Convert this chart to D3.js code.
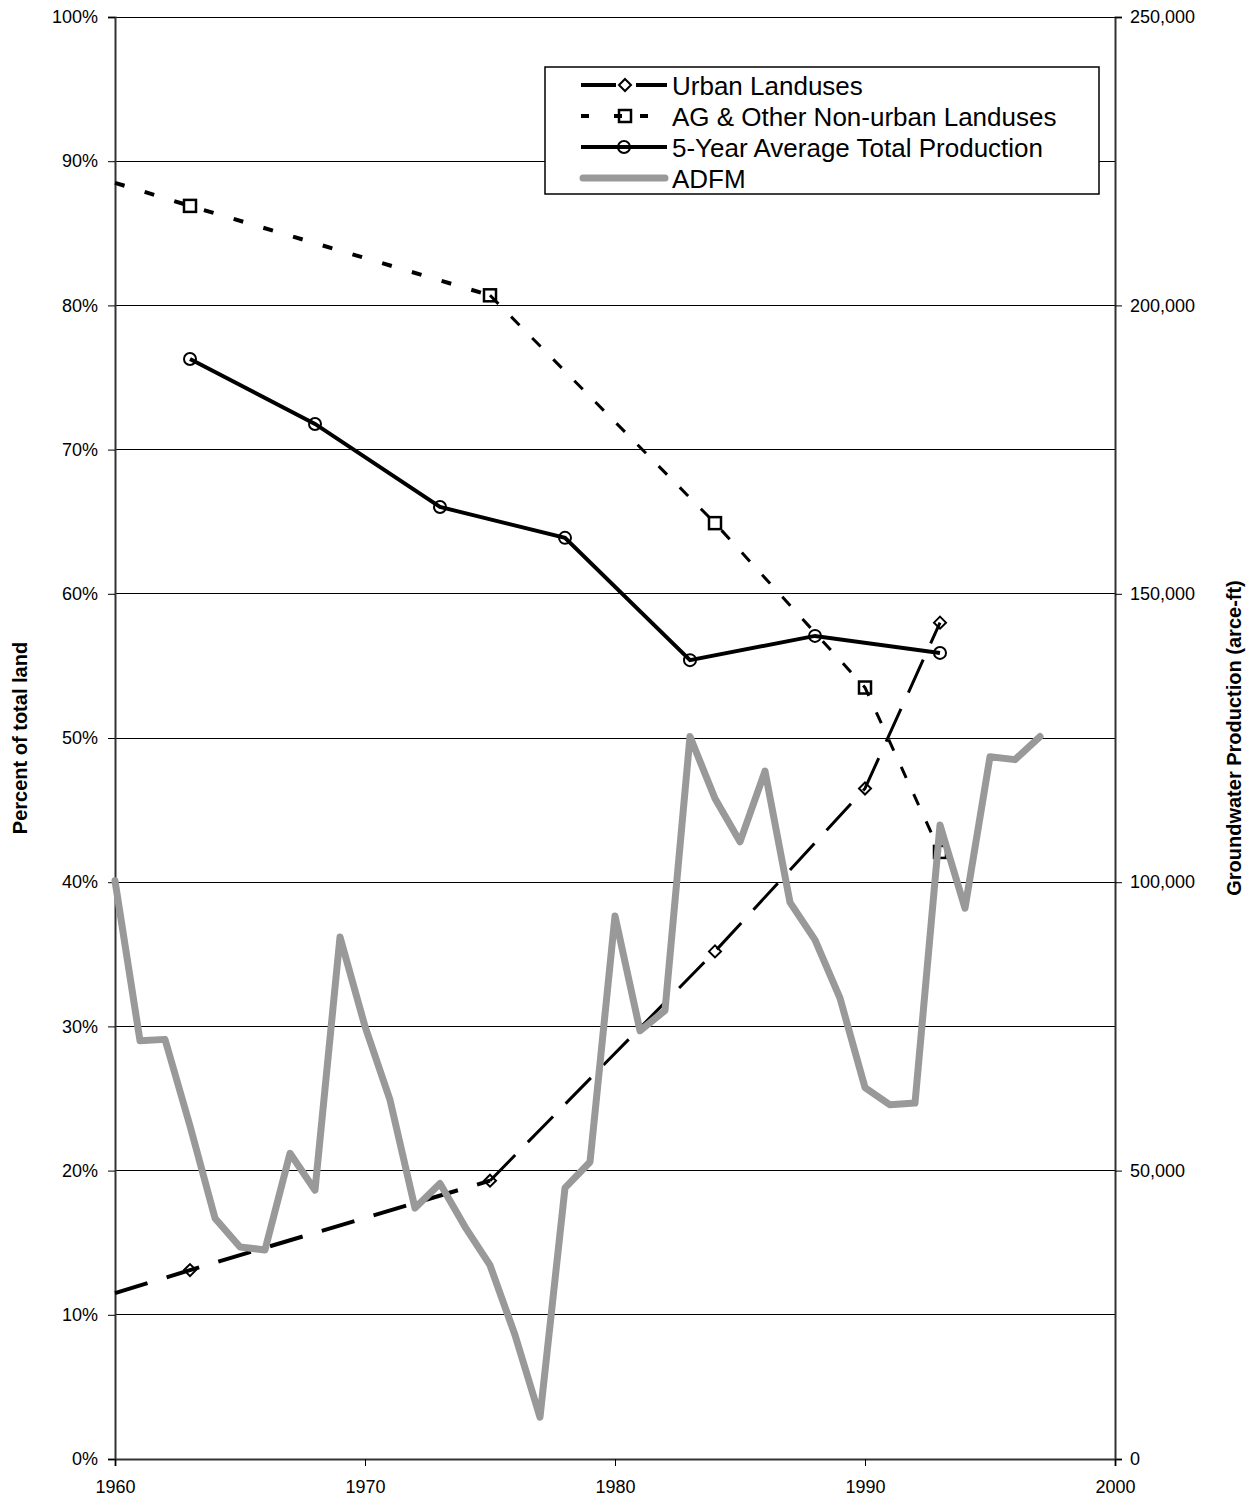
<!DOCTYPE html>
<html><head><meta charset="utf-8">
<script src="https://cdn.jsdelivr.net/npm/d3@7/dist/d3.min.js"></script>
<style>body{margin:0;background:#fff;} text{font-family:"Liberation Sans",Arial,sans-serif;}</style>
</head><body>
<svg id="c" width="1252" height="1503"></svg>
<script>
// ---- data ----
const landYears = [1960, 1963, 1975, 1984, 1990, 1993];
const urbanPct = [11.5, 13.1, 19.3, 35.2, 46.5, 58.0];
const agPct = [88.5, 86.9, 80.7, 64.9, 53.5, 42.1];
const avgYears = [1963, 1968, 1973, 1978, 1983, 1988, 1993];
const avgProd = [190700, 179450, 165050, 159700, 138500, 142700, 139750];
const adfmYears = d3.range(1960, 1998);
const adfmProd = [100250, 72500, 72750, 57750, 41750, 36750, 36250, 53000, 46600, 90500,
  75000, 62250, 43500, 47750, 40250, 33600, 21500, 7250, 47000, 51500,
  94150, 74250, 77750, 125250, 114500, 107000, 119250, 96500, 90000, 79900,
  64400, 61400, 61700, 109900, 95500, 121750, 121250, 125250];
const xTicks = [1960, 1970, 1980, 1990, 2000];
const leftTicks = [0, 10, 20, 30, 40, 50, 60, 70, 80, 90, 100];
const rightTicks = [0, 50000, 100000, 150000, 200000, 250000];
const legendLabels = ["Urban Landuses", "AG & Other Non-urban Landuses", "5-Year Average Total Production", "ADFM"];

const svg = d3.select("#c");
const L = 115, R = 1115, T = 17, B = 1459;
const x = d3.scaleLinear().domain([1960, 2000]).range([L, R]);
const yL = d3.scaleLinear().domain([0, 100]).range([B, T]);
const yR = d3.scaleLinear().domain([0, 250000]).range([B, T]);

// gridlines
svg.append("g").selectAll("line").data(leftTicks.slice(1)).join("line")
  .attr("x1", L).attr("x2", R).attr("y1", d => yL(d)).attr("y2", d => yL(d))
  .attr("stroke", "#000").attr("stroke-width", 1).attr("shape-rendering", "crispEdges");

// axes
const axL = d3.axisLeft(yL).tickValues(leftTicks).tickFormat(d => d + "%").tickSizeOuter(0).tickSize(7).tickPadding(10);
const gL = svg.append("g").attr("transform", `translate(${L},0)`).call(axL);
const axR = d3.axisRight(yR).tickValues(rightTicks).tickFormat(d3.format(",")).tickSizeOuter(0).tickSize(7).tickPadding(8);
const gR = svg.append("g").attr("transform", `translate(${R},0)`).call(axR);
const axB = d3.axisBottom(x).tickValues(xTicks).tickFormat(d3.format("d")).tickSizeOuter(0).tickSize(7).tickPadding(14);
const gB = svg.append("g").attr("transform", `translate(0,${B})`).call(axB);
[gL, gR, gB].forEach(g => {
  g.selectAll("text").attr("font-size", 18).attr("fill", "#000").style("font-family", "Liberation Sans, Arial, sans-serif");
  g.selectAll("line").attr("stroke", "#000");
  g.select(".domain").attr("stroke", "#333").attr("stroke-width", 2);
});

// axis titles
svg.append("text").attr("transform", `translate(27,${(T + B) / 2}) rotate(-90)`)
  .attr("text-anchor", "middle").attr("font-size", 20).attr("font-weight", "bold").text("Percent of total land");
svg.append("text").attr("transform", `translate(1241,${(T + B) / 2}) rotate(-90)`)
  .attr("text-anchor", "middle").attr("font-size", 20).attr("font-weight", "bold").text("Groundwater Production (arce-ft)");

// helpers
const lineL = d3.line().x(d => x(d[0])).y(d => yL(d[1]));
const lineR = d3.line().x(d => x(d[0])).y(d => yR(d[1]));
const urban = landYears.map((y, i) => [y, urbanPct[i]]);
const ag = landYears.map((y, i) => [y, agPct[i]]);
const avg = avgYears.map((y, i) => [y, avgProd[i]]);
const adfm = adfmYears.map((y, i) => [y, adfmProd[i]]);

// Urban landuses (long dash)
svg.append("path").attr("d", lineL(urban.slice(0, 3))).attr("fill", "none")
  .attr("stroke", "#000").attr("stroke-width", 4).attr("stroke-dasharray", "34,20");
svg.append("path").attr("d", lineL(urban.slice(2))).attr("fill", "none")
  .attr("stroke", "#000").attr("stroke-width", 3).attr("stroke-dasharray", "36,18");
// AG (short dash)
svg.append("path").attr("d", lineL(ag.slice(0, 3))).attr("fill", "none")
  .attr("stroke", "#000").attr("stroke-width", 4).attr("stroke-dasharray", "10,21");
svg.append("path").attr("d", lineL(ag.slice(2))).attr("fill", "none")
  .attr("stroke", "#000").attr("stroke-width", 3).attr("stroke-dasharray", "12,18");

const diamond = (cx, cy, s) => `M${cx},${cy - s}L${cx + s},${cy}L${cx},${cy + s}L${cx - s},${cy}Z`;
svg.append("g").selectAll("path").data(urban.slice(1)).join("path")
  .attr("d", d => diamond(x(d[0]), yL(d[1]), 6)).attr("fill", "none").attr("stroke", "#000").attr("stroke-width", 2);
svg.append("g").selectAll("rect").data(ag.slice(1)).join("rect")
  .attr("x", d => x(d[0]) - 6).attr("y", d => yL(d[1]) - 6).attr("width", 12).attr("height", 12)
  .attr("fill", "none").attr("stroke", "#000").attr("stroke-width", 2.5);

// 5-year average
svg.append("path").attr("d", lineR(avg)).attr("fill", "none").attr("stroke", "#000").attr("stroke-width", 4);
svg.append("g").selectAll("circle").data(avg).join("circle")
  .attr("cx", d => x(d[0])).attr("cy", d => yR(d[1])).attr("r", 6)
  .attr("fill", "none").attr("stroke", "#000").attr("stroke-width", 2);

// ADFM
svg.append("path").attr("d", lineR(adfm)).attr("fill", "none").attr("stroke", "#999999")
  .attr("stroke-width", 7).attr("stroke-linejoin", "round").attr("stroke-linecap", "round");

// legend
const lg = svg.append("g");
lg.append("rect").attr("x", 545).attr("y", 67).attr("width", 554).attr("height", 127)
  .attr("fill", "#fff").attr("stroke", "#000").attr("stroke-width", 1.5);
const rowY = [85, 116, 147, 178];
lg.selectAll("text").data(legendLabels).join("text")
  .attr("x", 672).attr("y", (d, i) => rowY[i] + 10).attr("font-size", 26).text(d => d);
// row 1
lg.append("line").attr("x1", 581).attr("x2", 616).attr("y1", rowY[0]).attr("y2", rowY[0]).attr("stroke", "#000").attr("stroke-width", 4);
lg.append("line").attr("x1", 636).attr("x2", 667).attr("y1", rowY[0]).attr("y2", rowY[0]).attr("stroke", "#000").attr("stroke-width", 4);
lg.append("path").attr("d", diamond(625, rowY[0], 6)).attr("fill", "none").attr("stroke", "#000").attr("stroke-width", 2);
// row 2
lg.append("line").attr("x1", 581).attr("x2", 667).attr("y1", rowY[1]).attr("y2", rowY[1]).attr("stroke", "#000").attr("stroke-width", 4).attr("stroke-dasharray", "8,25,8,18,8,30");
lg.append("rect").attr("x", 619).attr("y", rowY[1] - 6).attr("width", 12).attr("height", 12).attr("fill", "none").attr("stroke", "#000").attr("stroke-width", 2.5);
// row 3
lg.append("line").attr("x1", 581).attr("x2", 667).attr("y1", rowY[2]).attr("y2", rowY[2]).attr("stroke", "#000").attr("stroke-width", 4);
lg.append("circle").attr("cx", 624).attr("cy", rowY[2]).attr("r", 6).attr("fill", "none").attr("stroke", "#000").attr("stroke-width", 2);
// row 4
lg.append("line").attr("x1", 583).attr("x2", 665).attr("y1", rowY[3]).attr("y2", rowY[3]).attr("stroke", "#999999").attr("stroke-width", 7).attr("stroke-linecap", "round");
</script>
</body></html>
